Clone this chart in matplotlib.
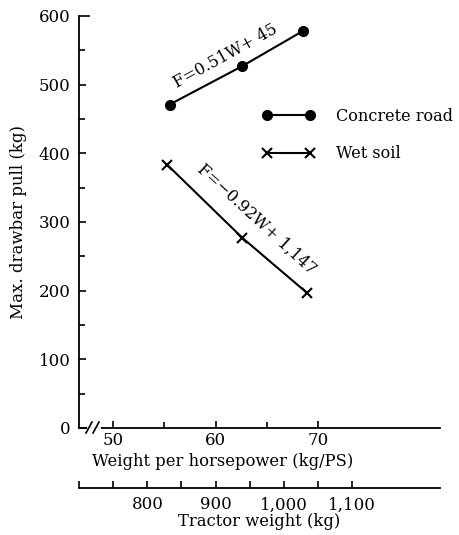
import matplotlib.pyplot as plt
import matplotlib.ticker as mticker
import numpy as np

plt.rcParams['font.family'] = ['DejaVu Serif']
plt.rcParams['font.size'] = 12

# ============================
# DATA
# ============================
concrete_hp = [55.5, 62.6, 68.5]      # weight per horsepower (kg/PS)
concrete_pull = [471, 527, 578]       # max drawbar pull (kg)
wet_hp = [55.3, 62.6, 68.9]
wet_pull = [383, 277, 197]

hp_ticks = [50, 60, 70]
hp_minor = [55, 65]
weight_ticks = [800, 900, 1000, 1100]
weight_minor = [700, 750, 850, 950, 1050]
KG_PER_PS = 15  # tractor weight = 15 x weight per horsepower

concrete_eq = "F=0.51W+ 45"
wet_eq = "F=\u22120.92W+ 1,147"

# ============================
# FIGURE
# ============================
fig = plt.figure(figsize=(4.6, 5.35), dpi=100)
ax = fig.add_axes([79 / 460, 1 - 428 / 535, 361 / 460, 412 / 535])
ax.set_xlim(700 / KG_PER_PS - 0.001, 81.9)
ax.set_ylim(0, 600)

ax.plot(concrete_hp, concrete_pull, color="black", lw=1.5,
        marker="o", ms=7, label="Concrete road")
ax.plot(wet_hp, wet_pull, color="black", lw=1.5,
        marker="x", ms=7, mew=1.5, label="Wet soil")


def angle_of(xs, ys):
    p0 = ax.transData.transform((xs[0], ys[0]))
    p1 = ax.transData.transform((xs[-1], ys[-1]))
    return np.degrees(np.arctan2(p1[1] - p0[1], p1[0] - p0[0]))


ax.text(61.0, 541, concrete_eq, rotation=angle_of(concrete_hp, concrete_pull),
        rotation_mode="anchor", ha="center", va="center", fontsize=11.5)
ax.text(64.0, 304, wet_eq, rotation=angle_of(wet_hp, wet_pull),
        rotation_mode="anchor", ha="center", va="center", fontsize=11.5)

# Legend
ax.legend(loc="upper left", bbox_to_anchor=(262 / 460, 1 - 108 / 535),
          bbox_transform=fig.transFigure, frameon=False, numpoints=2,
          handlelength=3.3, handletextpad=1.3, labelspacing=1.25,
          borderpad=0, borderaxespad=0, fontsize=11.6)

# Axes styling
for s in ["top", "right"]:
    ax.spines[s].set_visible(False)
ax.spines["left"].set_linewidth(1.3)
ax.spines["bottom"].set_linewidth(1.3)

ax.set_yticks(range(0, 601, 100))
ax.yaxis.set_minor_locator(mticker.FixedLocator(range(50, 600, 100)))
ax.set_xticks(hp_ticks)
ax.xaxis.set_minor_locator(mticker.FixedLocator(hp_minor))
ax.tick_params(axis="both", which="major", direction="in", length=5, width=1.2,
               labelsize=12)
ax.tick_params(axis="both", which="minor", direction="in", length=4, width=1.2)
ax.tick_params(axis="y", pad=6)
ax.tick_params(axis="x", pad=3)
ax.yaxis.get_major_ticks()[-1].tick1line.set_markersize(8)
ax.set_ylabel("Max. drawbar pull (kg)", fontsize=12)
ax.yaxis.set_label_coords(-(79 - 27) / 361, 0.5)
ax.set_xlabel("Weight per horsepower (kg/PS)", fontsize=11.8)
ax.xaxis.set_label_coords((223 - 79) / 361, -25 / 412)

# Break marks on the x axis
ax.plot([(88 - 79) / 361, (99 - 79) / 361], [0, 0], transform=ax.transAxes,
        color="white", lw=2, clip_on=False, zorder=5)
for x0 in [86, 93]:
    ax.plot([(x0 - 79) / 361, (x0 + 6 - 79) / 361], [-5 / 412, 6 / 412],
            transform=ax.transAxes, color="black", lw=1.2, clip_on=False,
            zorder=6)

# Secondary axis: tractor weight
sec = ax.secondary_xaxis(-60 / 412, functions=(lambda h: h * KG_PER_PS,
                                               lambda t: t / KG_PER_PS))
sec.set_xticks(weight_ticks)
sec.set_xticklabels([f"{w:,}" for w in weight_ticks])
sec.xaxis.set_minor_locator(mticker.FixedLocator(weight_minor))
sec.tick_params(which="major", direction="in", length=5, width=1.2,
                labelsize=12, pad=6)
sec.tick_params(which="minor", direction="in", length=5, width=1.2)
sec.spines["bottom"].set_linewidth(1.3)
sec.set_xlabel("Tractor weight (kg)", fontsize=11.8, labelpad=0)

fig.savefig("out.png", dpi=100)
